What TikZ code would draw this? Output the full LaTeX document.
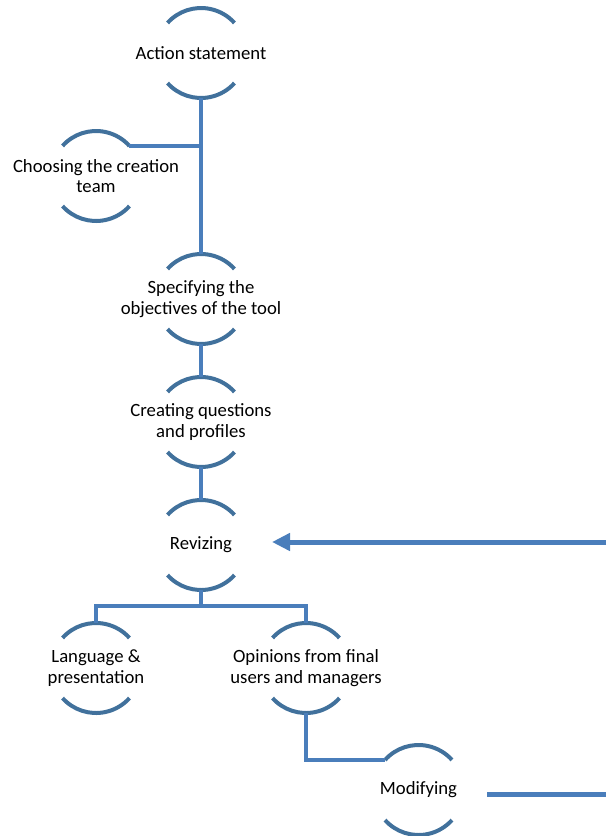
\documentclass[tikz,border=0pt]{standalone}
\usepackage{fontspec}
\setmainfont{Carlito}
\usetikzlibrary{arrows.meta}
\definecolor{arcblue}{HTML}{41719C}
\definecolor{linkblue}{HTML}{4A7EBB}
\tikzset{
  ring/.style={circle, draw=none, inner sep=0pt, outer sep=0pt, minimum size=90pt},
  caption/.style={align=center, font=\fontsize{18.7}{20.5}\selectfont, text=black, inner sep=0pt},
  arcline/.style={draw=arcblue, line width=4pt},
  link/.style={draw=linkblue, line width=4pt},
  feedback/.style={draw=linkblue, line width=5pt},
}
% top and bottom caps of a ring node
\newcommand\capsof[1]{%
  \draw[arcline] (#1.138) arc[start angle=138, end angle=42, radius=45pt];
  \draw[arcline] (#1.222) arc[start angle=222, end angle=318, radius=45pt];}
\begin{document}
\begin{tikzpicture}[x=1pt,y=1pt]
\useasboundingbox (0,0) rectangle (606,-836);

% steps
\node[ring] (act)  at (201,-53)   {};
\node[ring] (ch)   at (96,-176)   {};
\node[ring] (spec) at (201,-299)  {};
\node[ring] (cre)  at (201,-422)  {};
\node[ring] (rev)  at (201,-545)  {};
\node[ring] (lang) at (96,-668)   {};
\node[ring] (op)   at (306,-668)  {};
\node[ring] (mod)  at (418.5,-790) {};

\node[caption] (act-t)  at (act)  {Action statement};
\node[caption] (ch-t)   at (ch)   {Choosing the creation\\team};
\node[caption] (spec-t) at (spec) {Specifying the\\objectives of the tool};
\node[caption] (cre-t)  at (cre)  {Creating questions\\and profiles};
\node[caption] (rev-t)  at (rev)  {Revizing};
\node[caption] (lang-t) at (lang) {Language \&\\presentation};
\node[caption] (op-t)   at (op)   {Opinions from final\\users and managers};
\node[caption] (mod-t)  at (mod)  {Modifying};

\foreach \n in {act,ch,spec,cre,rev,lang,op,mod} {\capsof{\n}}

% tree links
\draw[link] (act.south) -- (spec.north);
\draw[link] (ch.42) -- (ch.42 -| act.south);
\draw[link] (spec.south) -- (cre.north);
\draw[link] (cre.south) -- (rev.north);
\coordinate (fork) at (201,-606);
\draw[link] (rev.south) -- (fork);
\draw[link] (lang.north) |- (fork) -| (op.north);
\draw[link] (op.south) |- (mod.138);

% feedback from modifying back to revizing
\coordinate (modout) at (487,-794);
\coordinate (edgelow) at (606,-794);
\coordinate (edgehigh) at (606,-542);
\coordinate (revin) at (272,-542);
\draw[feedback] (modout) -- (edgelow);
\draw[feedback, -{Triangle[length=18pt,width=17pt]}] (edgehigh) -- (revin);
\end{tikzpicture}
\end{document}
